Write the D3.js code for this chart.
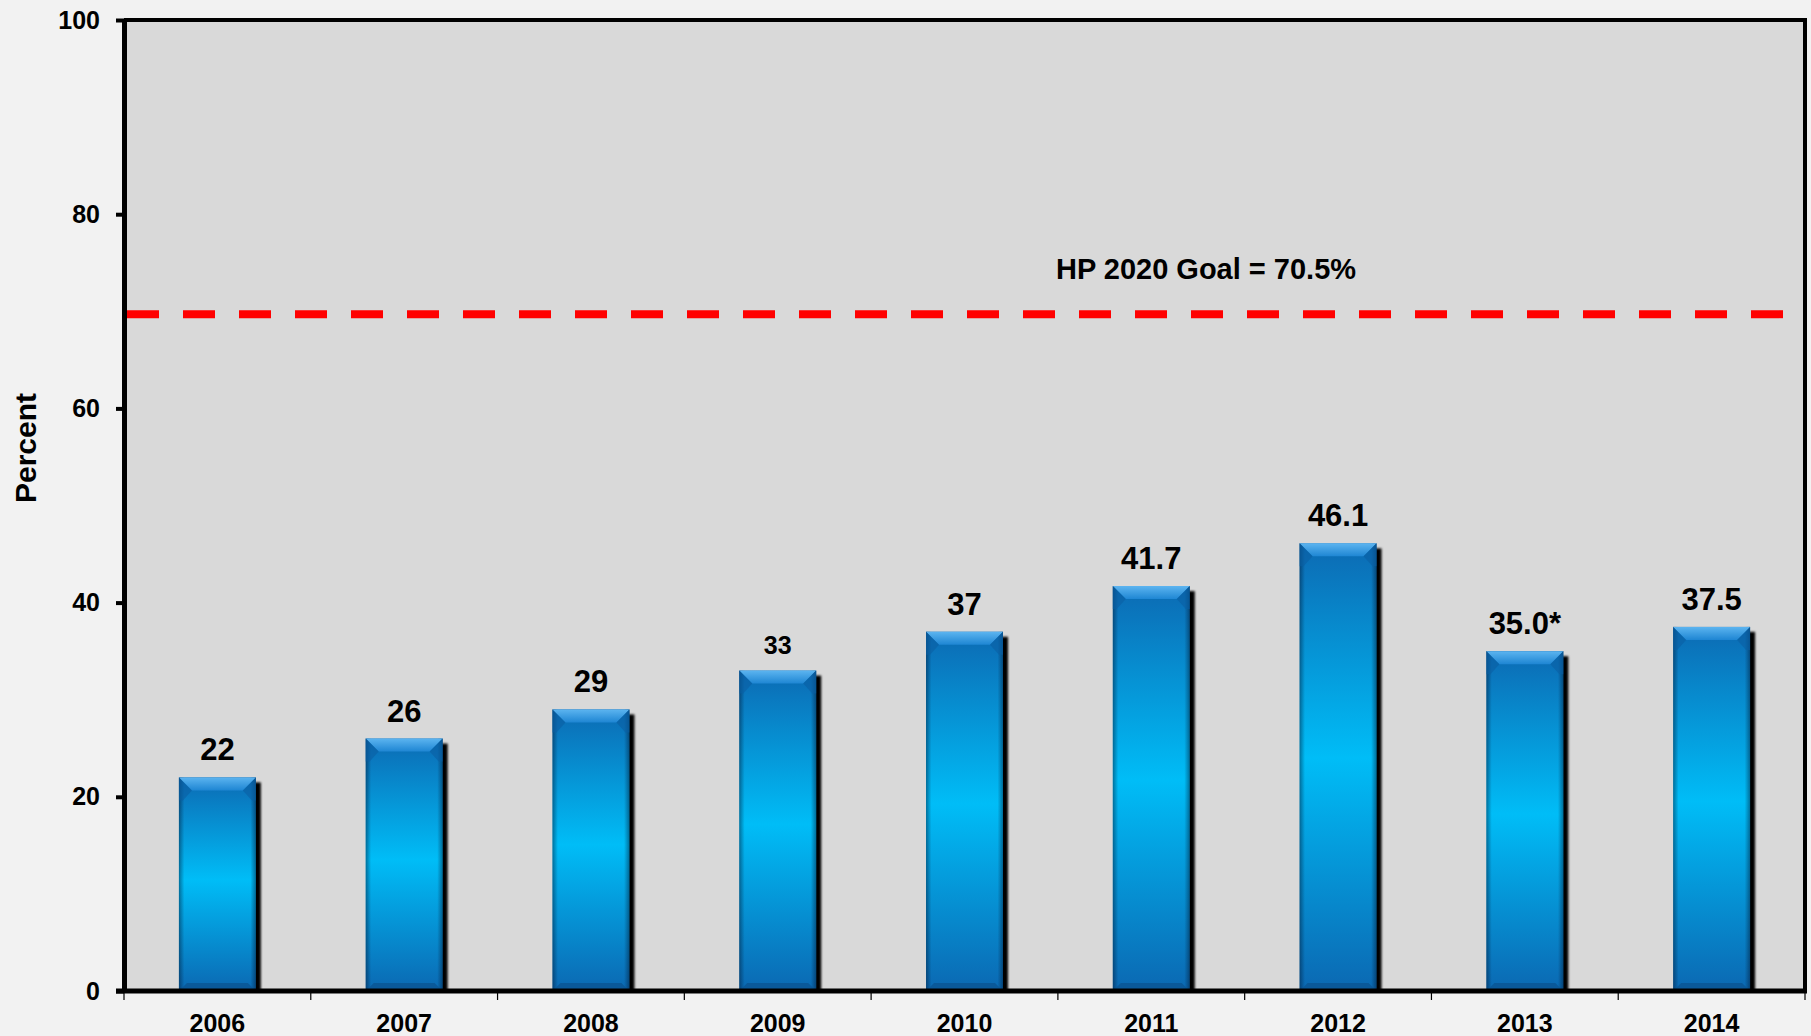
<!DOCTYPE html>
<html>
<head>
<meta charset="UTF-8">
<title>HP 2020 Goal chart</title>
<script src="https://d3js.org/d3.v7.min.js"></script>
<style>
  body { margin: 0; background: #f2f2f2; }
  svg { display: block; font-family: Arial, "Liberation Sans", sans-serif; font-weight: bold; }
</style>
</head>
<body>
<svg width="1811" height="1036"></svg>
<script>
// data
var years  = ["2006", "2007", "2008", "2009", "2010", "2011", "2012", "2013", "2014"];
var values = [22, 26, 29, 33, 37, 41.7, 46.1, 35.0, 37.5];
var valueLabels = ["22", "26", "29", "33", "37", "41.7", "46.1", "35.0*", "37.5"];
var yTicks = [0, 20, 40, 60, 80, 100];
var goalLine = 69.7;              // where the dashed line sits
var goalText = "HP 2020 Goal = 70.5%";

var svg = d3.select("svg");
var W = 1811, H = 1036;
var plot = {left: 124, right: 1805, top: 20, bottom: 991};

svg.append("rect").attr("width", W).attr("height", H).attr("fill", "#f2f2f2");

var x = d3.scaleBand()
    .domain(years)
    .range([plot.left, plot.right])
    .paddingInner(0.588)
    .paddingOuter(0.294);

var y = d3.scaleLinear()
    .domain([0, 100])
    .range([plot.bottom, plot.top]);

// gradients
var defs = svg.append("defs");
var g1 = defs.append("linearGradient").attr("id", "barFill")
    .attr("x1", 0).attr("y1", 0).attr("x2", 0).attr("y2", 1);
g1.append("stop").attr("offset", "0%").attr("stop-color", "#0c6ab3");
g1.append("stop").attr("offset", "48%").attr("stop-color", "#00bdf7");
g1.append("stop").attr("offset", "100%").attr("stop-color", "#0b68b2");

var g2 = defs.append("linearGradient").attr("id", "barEdge")
    .attr("x1", 0).attr("y1", 0).attr("x2", 1).attr("y2", 0);
g2.append("stop").attr("offset", "0%").attr("stop-color", "#00142e").attr("stop-opacity", 0.45);
g2.append("stop").attr("offset", "7%").attr("stop-color", "#00142e").attr("stop-opacity", 0);
g2.append("stop").attr("offset", "93%").attr("stop-color", "#00142e").attr("stop-opacity", 0);
g2.append("stop").attr("offset", "100%").attr("stop-color", "#00142e").attr("stop-opacity", 0.45);

var g3 = defs.append("linearGradient").attr("id", "bevelTop")
    .attr("x1", 0).attr("y1", 0).attr("x2", 0).attr("y2", 1);
g3.append("stop").attr("offset", "0%").attr("stop-color", "#5cb4f0");
g3.append("stop").attr("offset", "100%").attr("stop-color", "#1e86d3");

var blur = defs.append("filter").attr("id", "soft")
    .attr("x", "-20%").attr("y", "-5%").attr("width", "140%").attr("height", "110%");
blur.append("feGaussianBlur").attr("stdDeviation", 1.2);

// plot area
svg.append("rect")
    .attr("x", plot.left).attr("y", plot.top)
    .attr("width", plot.right - plot.left).attr("height", plot.bottom - plot.top)
    .attr("fill", "#d9d9d9");

// goal line + label
svg.append("line")
    .attr("x1", plot.left + 3).attr("x2", plot.right - 2)
    .attr("y1", y(goalLine)).attr("y2", y(goalLine))
    .attr("stroke", "#ff0000").attr("stroke-width", 8)
    .attr("stroke-dasharray", "32,24");

svg.append("text")
    .attr("x", 1206).attr("y", y(goalLine) - 35)
    .attr("text-anchor", "middle")
    .style("font-size", "29px")
    .text(goalText);

// bars
var bw = x.bandwidth();
var bars = svg.append("g").selectAll("g").data(values).enter().append("g");

bars.append("rect")
    .attr("x", function(d, i) { return x(years[i]) + 5; })
    .attr("y", function(d) { return y(d) + 5; })
    .attr("width", bw)
    .attr("height", function(d) { return y(0) - y(d) - 5; })
    .attr("fill", "#000")
    .attr("filter", "url(#soft)");

bars.append("rect")
    .attr("x", function(d, i) { return x(years[i]); })
    .attr("y", function(d) { return y(d); })
    .attr("width", bw)
    .attr("height", function(d) { return y(0) - y(d); })
    .attr("fill", "url(#barFill)");

bars.append("rect")
    .attr("x", function(d, i) { return x(years[i]); })
    .attr("y", function(d) { return y(d); })
    .attr("width", bw)
    .attr("height", function(d) { return y(0) - y(d); })
    .attr("fill", "url(#barEdge)");

var bev = 13, bevB = 8;
bars.append("polygon")
    .attr("points", function(d, i) {
      var x0 = x(years[i]), x1 = x0 + bw, t = y(d);
      return [[x0, t], [x1, t], [x1 - bev, t + bev], [x0 + bev, t + bev]].join(" ");
    })
    .attr("fill", "url(#bevelTop)");

bars.append("polygon")
    .attr("points", function(d, i) {
      var x0 = x(years[i]), x1 = x0 + bw, t = y(d);
      return [[x0, t], [x0 + bev, t + bev], [x0 + 4, t + bev + 10], [x0, t + bev + 10]].join(" ");
    })
    .attr("fill", "#0a5fa3").attr("opacity", 0.6);

bars.append("polygon")
    .attr("points", function(d, i) {
      var x0 = x(years[i]), x1 = x0 + bw, t = y(d);
      return [[x1, t], [x1 - bev, t + bev], [x1 - 4, t + bev + 10], [x1, t + bev + 10]].join(" ");
    })
    .attr("fill", "#0a5fa3").attr("opacity", 0.6);

bars.append("polygon")
    .attr("points", function(d, i) {
      var x0 = x(years[i]), x1 = x0 + bw, b = y(0);
      return [[x0, b], [x1, b], [x1 - bevB, b - bevB], [x0 + bevB, b - bevB]].join(" ");
    })
    .attr("fill", "#0a5594").attr("opacity", 0.8);

// value labels
bars.append("text")
    .attr("x", function(d, i) { return x(years[i]) + bw / 2; })
    .attr("y", function(d) { return y(d) - 17; })
    .attr("text-anchor", "middle")
    .style("font-size", function(d, i) { return years[i] === "2009" ? "25px" : "31px"; })
    .text(function(d, i) { return valueLabels[i]; });

// frame: top and right
svg.append("line").attr("x1", plot.left).attr("x2", plot.right + 2)
    .attr("y1", plot.top).attr("y2", plot.top)
    .attr("stroke", "#000").attr("stroke-width", 4);
svg.append("line").attr("x1", plot.right).attr("x2", plot.right)
    .attr("y1", plot.top - 2).attr("y2", plot.bottom)
    .attr("stroke", "#000").attr("stroke-width", 4);

// y axis
var yAxis = d3.axisLeft(y).tickValues(yTicks).tickSize(8).tickPadding(16).tickSizeOuter(0);
var ya = svg.append("g").attr("transform", "translate(" + plot.left + ",0)").call(yAxis);
ya.select(".domain").attr("stroke", "#000").attr("stroke-width", 5);
ya.selectAll(".tick line").attr("stroke", "#000").attr("stroke-width", 4);
ya.selectAll(".tick text").attr("fill", "#000")
    .style("font-size", "25px").style("font-family", "Arial, 'Liberation Sans', sans-serif")
    .style("font-weight", "bold");

// x axis line and boundary ticks
svg.append("line").attr("x1", plot.left - 8).attr("x2", plot.right + 2)
    .attr("y1", plot.bottom).attr("y2", plot.bottom)
    .attr("stroke", "#000").attr("stroke-width", 5);

var step = x.step();
svg.append("g").selectAll("line").data(d3.range(years.length + 1)).enter().append("line")
    .attr("x1", function(i) { return plot.left + i * step; })
    .attr("x2", function(i) { return plot.left + i * step; })
    .attr("y1", plot.bottom).attr("y2", plot.bottom + 9)
    .attr("stroke", "#000").attr("stroke-width", 1.2);

svg.append("g").selectAll("text").data(years).enter().append("text")
    .attr("x", function(d) { return x(d) + bw / 2; })
    .attr("y", 1032)
    .attr("text-anchor", "middle")
    .style("font-size", "25px")
    .text(function(d) { return d; });

// y title
svg.append("text")
    .attr("transform", "translate(36,448) rotate(-90)")
    .attr("text-anchor", "middle")
    .style("font-size", "30px")
    .text("Percent");
</script>
</body>
</html>
